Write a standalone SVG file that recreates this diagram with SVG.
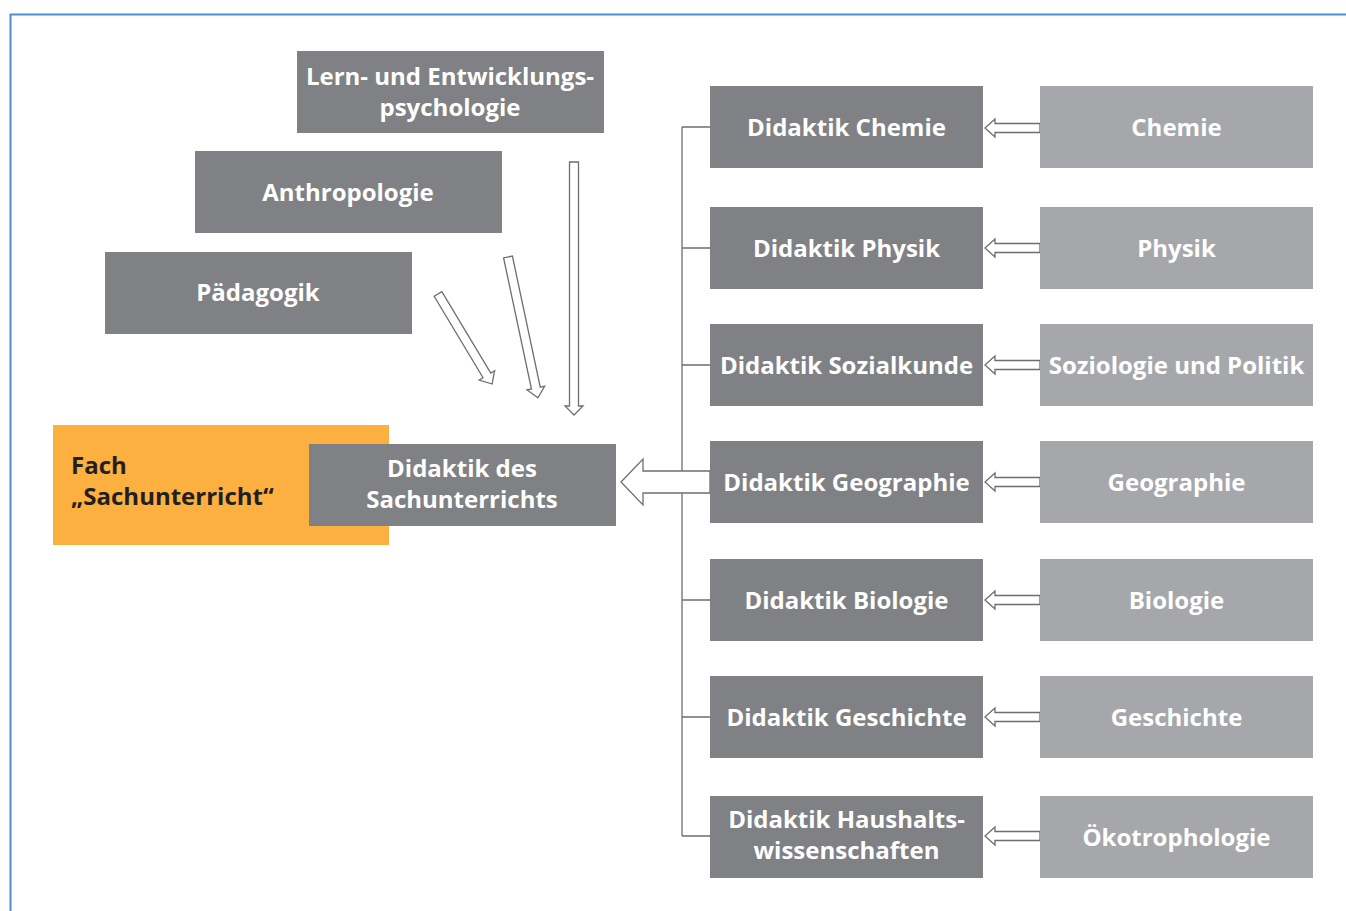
<svg xmlns="http://www.w3.org/2000/svg" width="1346" height="911" viewBox="0 0 1346 911">
<style>
.dk{fill:#808184}
.lt{fill:#a6a7aa}
.t{font-family:"Open Sans","Liberation Sans",sans-serif;font-weight:700;font-size:24px;fill:#ffffff;text-anchor:middle}
.ot{font-family:"Open Sans","Liberation Sans",sans-serif;font-weight:700;font-size:24px;fill:#231f20}
.ar{fill:#ffffff;stroke:#6d6e71;stroke-width:1.3}
.ln{stroke:#6d6e71;stroke-width:1.3;fill:none}
</style>
<rect x="0" y="0" width="1346" height="911" fill="#ffffff"/>
<path d="M10.5 911 V14.5 H1346" fill="none" stroke="#4a90cf" stroke-width="2"/>

<g id="lern"><rect class="dk" x="297" y="51" width="307" height="82"/><text class="t" x="450" y="85">Lern- und Entwicklungs-</text><text class="t" x="450" y="116">psychologie</text></g>
<g id="anthro"><rect class="dk" x="195" y="151" width="307" height="82"/><text class="t" x="348" y="201">Anthropologie</text></g>
<g id="paed"><rect class="dk" x="105" y="252" width="307" height="82"/><text class="t" x="258" y="301">Pädagogik</text></g>

<g id="fach"><rect x="53" y="425" width="336" height="120" fill="#fbb040"/><text class="ot" x="71" y="474">Fach</text><text class="ot" x="71" y="505">„Sachunterricht“</text></g>
<g id="dsu"><rect class="dk" x="309" y="444" width="307" height="82"/><text class="t" x="462" y="477">Didaktik des</text><text class="t" x="462" y="508">Sachunterrichts</text></g>

<g id="connectors">
<path class="ln" d="M682 127 V836 M682 127 H710 M682 248 H710 M682 365 H710 M682 600 H710 M682 717 H710 M682 836 H710"/>
<polygon class="ar" points="710,471 643,471 643,459 621,482 643,505 643,493 710,493"/>
<polygon class="ar" points="569.5,162 578.5,162 578.5,406 583,406 574,415 565,406 569.5,406"/>
<g transform="translate(508,257) rotate(-12)"><polygon class="ar" points="-4.5,0 4.5,0 4.5,134 9,134 0,144 -9,134 -4.5,134"/></g>
<g transform="translate(438,294) rotate(-31)"><polygon class="ar" points="-4.5,0 4.5,0 4.5,95 9,95 0,105 -9,95 -4.5,95"/></g>
<polygon class="ar" points="1040,123.5 995,123.5 995,119 985,128 995,137 995,132.5 1040,132.5"/>
<polygon class="ar" points="1040,243.5 995,243.5 995,239 985,248 995,257 995,252.5 1040,252.5"/>
<polygon class="ar" points="1040,360.5 995,360.5 995,356 985,365 995,374 995,369.5 1040,369.5"/>
<polygon class="ar" points="1040,477.5 995,477.5 995,473 985,482 995,491 995,486.5 1040,486.5"/>
<polygon class="ar" points="1040,595.5 995,595.5 995,591 985,600 995,609 995,604.5 1040,604.5"/>
<polygon class="ar" points="1040,712.5 995,712.5 995,708 985,717 995,726 995,721.5 1040,721.5"/>
<polygon class="ar" points="1040,831.5 995,831.5 995,827 985,836 995,845 995,840.5 1040,840.5"/>
</g>

<g id="d-chemie"><rect class="dk" x="710" y="86" width="273" height="82"/><text class="t" x="846.5" y="136">Didaktik Chemie</text></g>
<g id="d-physik"><rect class="dk" x="710" y="207" width="273" height="82"/><text class="t" x="846.5" y="257">Didaktik Physik</text></g>
<g id="d-sozial"><rect class="dk" x="710" y="324" width="273" height="82"/><text class="t" x="846.5" y="374">Didaktik Sozialkunde</text></g>
<g id="d-geo"><rect class="dk" x="710" y="441" width="273" height="82"/><text class="t" x="846.5" y="491">Didaktik Geographie</text></g>
<g id="d-bio"><rect class="dk" x="710" y="559" width="273" height="82"/><text class="t" x="846.5" y="609">Didaktik Biologie</text></g>
<g id="d-gesch"><rect class="dk" x="710" y="676" width="273" height="82"/><text class="t" x="846.5" y="726">Didaktik Geschichte</text></g>
<g id="d-haus"><rect class="dk" x="710" y="796" width="273" height="82"/><text class="t" x="846.5" y="828">Didaktik Haushalts-</text><text class="t" x="846.5" y="859">wissenschaften</text></g>

<g id="chemie"><rect class="lt" x="1040" y="86" width="273" height="82"/><text class="t" x="1176.5" y="136">Chemie</text></g>
<g id="physik"><rect class="lt" x="1040" y="207" width="273" height="82"/><text class="t" x="1176.5" y="257">Physik</text></g>
<g id="sozio"><rect class="lt" x="1040" y="324" width="273" height="82"/><text class="t" x="1176.5" y="374">Soziologie und Politik</text></g>
<g id="geo"><rect class="lt" x="1040" y="441" width="273" height="82"/><text class="t" x="1176.5" y="491">Geographie</text></g>
<g id="bio"><rect class="lt" x="1040" y="559" width="273" height="82"/><text class="t" x="1176.5" y="609">Biologie</text></g>
<g id="gesch"><rect class="lt" x="1040" y="676" width="273" height="82"/><text class="t" x="1176.5" y="726">Geschichte</text></g>
<g id="oeko"><rect class="lt" x="1040" y="796" width="273" height="82"/><text class="t" x="1176.5" y="846">Ökotrophologie</text></g>
</svg>
